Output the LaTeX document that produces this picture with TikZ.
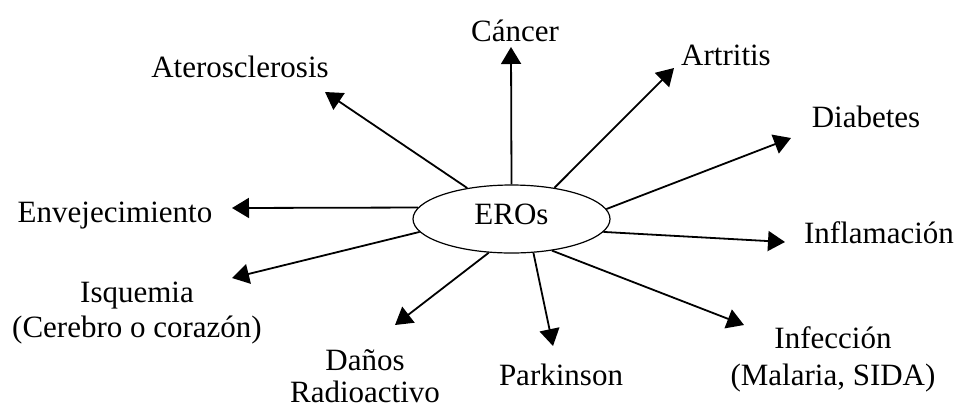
\documentclass[tikz,border=0pt]{standalone}
\usepackage{fontspec}
\setmainfont{Liberation Serif}
\usetikzlibrary{shapes.geometric,arrows.meta}
\tikzset{
  lbl/.style={inner sep=0pt, anchor=base, align=center, font=\fontsize{31}{35}\selectfont},
  arr/.style={line width=1.8pt, -{Triangle[length=17pt,width=20pt]}},
  hub/.style={ellipse, draw, line width=1.2pt, minimum width=197pt, minimum height=68pt, inner sep=0pt, text depth=10pt, font=\fontsize{31}{35}\selectfont}
}
\begin{document}
\begin{tikzpicture}[x=1pt,y=-1pt]
\useasboundingbox (0,0) rectangle (957,408);
\node[hub] (eros) at (511.5,219) {EROs};

\node[lbl] (cancer) at (515,41) {Cáncer};
\node[lbl] (ater) at (240,77) {Aterosclerosis};
\node[lbl] (artr) at (726,65) {Artritis};
\node[lbl] (diab) at (866,127) {Diabetes};
\node[lbl] (envej) at (115,222) {Envejecimiento};
\node[lbl] (infl) at (879,243) {Inflamación};
\node[lbl] (isq) at (137,337) {Isquemia\\(Cerebro o corazón)};
\node[lbl, font=\fontsize{31}{32}\selectfont] (danos) at (365,402) {Daños\\Radioactivo};
\node[lbl] (park) at (561,385) {Parkinson};
\node[lbl, font=\fontsize{31}{37}\selectfont] (infec) at (833,385) {Infección\\(Malaria, SIDA)};

\coordinate (tcancer) at (511,47);
\coordinate (tater) at (325,92);
\coordinate (tartr) at (674,68);
\coordinate (tdiab) at (791,138);
\coordinate (tenvej) at (232,208);
\coordinate (tinfl) at (785,242);
\coordinate (tisq) at (232,278);
\coordinate (tdanos) at (395,325);
\coordinate (tpark) at (553,346);
\coordinate (tinfec) at (744,325);

\draw[arr] (eros.90) -- (tcancer);
\draw[arr] (eros.145) -- (tater);
\draw[arr] (eros.36) -- (tartr);
\draw[arr] (eros.6.7) -- (tdiab);
\draw[arr] (eros.173.5) -- (tenvej);
\draw[arr] (eros.-8) -- (tinfl);
\draw[arr] (eros.-172) -- (tisq);
\draw[arr] (eros.-124) -- (tdanos);
\draw[arr] (eros.-57) -- (tpark);
\draw[arr] (eros.-38) -- (tinfec);
\end{tikzpicture}
\end{document}
